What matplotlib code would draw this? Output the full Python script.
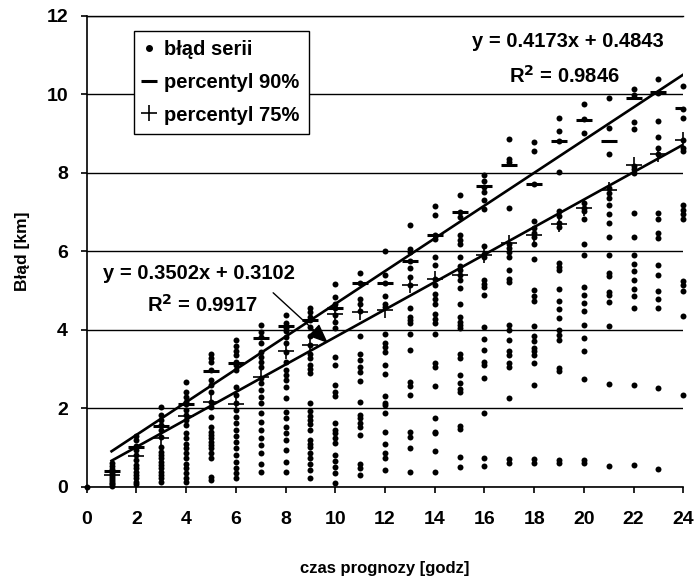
import numpy as np
import matplotlib
matplotlib.use("Agg")
import matplotlib.pyplot as plt
from matplotlib.lines import Line2D

plt.rcParams['font.family'] = ['Liberation Sans', 'DejaVu Sans']
plt.rcParams['font.weight'] = 'bold'

# ---- data: error of each series per forecast hour ----
e_00 = [0.0]
e_01 = [0.60, 0.52, 0.45, 0.40, 0.35, 0.30, 0.25, 0.20, 0.15, 0.10, 0.06, 0.02]
e_02 = [1.29, 1.19, 1.03, 0.93, 0.81, 0.68, 0.55, 0.47, 0.38, 0.30, 0.21, 0.13, 0.06]
e_03 = [2.04, 1.82, 1.70, 1.57, 1.44, 1.27, 1.02, 0.89, 0.81, 0.72, 0.64, 0.55, 0.47, 0.38, 0.30, 0.21, 0.13]
e_04 = [2.67, 2.42, 2.29, 2.16, 2.10, 1.95, 1.82, 1.70, 1.57, 1.36, 1.23, 1.10, 0.98, 0.85, 0.72, 0.59, 0.47, 0.34, 0.21, 0.13]
e_05 = [3.39, 3.29, 3.18, 2.97, 2.71, 2.59, 2.42, 2.16, 2.04, 1.78, 1.53, 1.40, 1.31, 1.23, 1.15, 1.06, 0.98, 0.85, 0.72, 0.25, 0.17]
e_06 = [3.73, 3.58, 3.46, 3.35, 3.18, 3.10, 2.97, 2.54, 2.33, 2.12, 1.95, 1.78, 1.61, 1.44, 1.29, 1.15, 0.98, 0.81, 0.64, 0.47, 0.34, 0.21]
e_07 = [4.11, 3.94, 3.82, 3.65, 3.44, 3.31, 3.18, 3.05, 2.78, 2.63, 2.46, 2.29, 2.12, 1.87, 1.65, 1.44, 1.25, 1.06, 0.85, 0.59, 0.38]
e_08 = [4.37, 4.17, 4.03, 3.97, 3.82, 3.65, 3.44, 3.18, 2.97, 2.84, 2.71, 2.54, 2.25, 1.91, 1.74, 1.53, 1.37, 1.19, 0.93, 0.64, 0.38]
e_09 = [4.54, 4.45, 4.33, 4.24, 4.07, 3.83, 3.60, 3.39, 3.27, 3.10, 3.01, 2.90, 2.12, 1.93, 1.80, 1.70, 1.59, 1.44, 1.19, 1.10, 1.00, 0.85, 0.72, 0.59, 0.42, 0.21]
e_10 = [5.17, 4.83, 4.66, 4.54, 4.37, 4.20, 4.05, 3.31, 3.10, 2.59, 2.42, 2.31, 1.63, 1.44, 1.36, 1.23, 1.12, 0.81, 0.66, 0.51, 0.34, 0.10]
e_11 = [5.45, 5.19, 4.77, 4.66, 4.47, 3.83, 3.37, 3.24, 3.05, 2.93, 2.70, 2.16, 1.82, 1.74, 1.61, 1.51, 1.31, 0.59, 0.47, 0.30]
e_12 = [6.00, 5.39, 5.19, 4.85, 4.66, 4.58, 3.88, 3.65, 3.55, 3.44, 3.11, 2.88, 2.31, 2.12, 2.08, 1.87, 1.40, 1.10, 0.85, 0.72, 0.42]
e_13 = [6.66, 6.06, 5.98, 5.74, 5.56, 5.34, 5.13, 4.54, 4.33, 4.24, 4.17, 3.90, 3.49, 2.67, 2.56, 2.33, 1.40, 1.26, 0.98, 0.38]
e_14 = [7.14, 6.91, 6.40, 6.32, 5.85, 5.64, 5.28, 5.13, 4.92, 4.79, 4.66, 4.41, 4.28, 4.16, 3.88, 3.16, 3.05, 2.56, 1.76, 1.40, 1.36, 0.91, 0.38]
e_15 = [7.42, 7.00, 6.87, 6.40, 6.29, 6.19, 5.85, 5.61, 5.51, 5.40, 5.26, 5.05, 4.66, 4.33, 4.20, 4.11, 4.03, 3.39, 3.27, 2.84, 2.63, 2.50, 2.42, 1.54, 1.46, 0.76, 0.49]
e_16 = [7.93, 7.80, 7.63, 7.51, 7.31, 7.08, 6.12, 5.94, 5.85, 5.26, 5.17, 5.09, 4.88, 4.07, 3.77, 3.48, 3.18, 3.10, 2.76, 1.87, 0.72, 0.53]
e_17 = [8.85, 8.34, 8.26, 7.09, 6.19, 6.09, 5.98, 5.85, 5.53, 5.28, 5.22, 4.13, 4.00, 3.74, 3.45, 3.36, 3.15, 3.06, 2.27, 0.70, 0.60]
e_18 = [8.78, 8.55, 7.70, 6.77, 6.60, 6.47, 6.36, 6.19, 5.80, 5.02, 4.85, 4.72, 4.09, 3.83, 3.70, 3.53, 3.45, 3.36, 3.15, 2.60, 0.70, 0.60]
e_19 = [9.40, 9.06, 8.81, 8.02, 7.02, 6.89, 6.72, 6.61, 5.70, 5.59, 5.53, 5.04, 4.72, 4.53, 4.30, 4.00, 3.87, 3.74, 3.02, 2.94, 0.68, 0.60]
e_20 = [9.76, 9.36, 9.02, 7.23, 7.11, 7.02, 6.83, 6.17, 5.91, 5.08, 4.89, 4.68, 4.47, 4.13, 3.79, 3.45, 2.75, 0.68, 0.60]
e_21 = [9.91, 9.15, 8.47, 7.62, 7.49, 7.36, 7.17, 6.95, 6.72, 6.36, 5.91, 5.45, 5.36, 4.95, 4.89, 4.71, 4.09, 2.61, 0.53]
e_22 = [10.13, 9.97, 9.28, 9.11, 8.17, 8.09, 8.00, 6.98, 6.37, 5.90, 5.68, 5.49, 5.26, 5.04, 4.85, 4.55, 2.58, 0.54]
e_23 = [10.38, 10.04, 9.32, 8.91, 8.64, 8.47, 6.98, 6.81, 6.47, 6.34, 5.66, 5.39, 4.98, 4.77, 4.55, 2.51, 0.45]
e_24 = [10.21, 9.62, 9.40, 8.83, 8.64, 8.55, 7.17, 7.06, 6.95, 6.83, 5.25, 5.13, 4.98, 4.34, 2.34]

errors = [e_00, e_01, e_02, e_03, e_04, e_05, e_06, e_07, e_08, e_09, e_10, e_11, e_12,
          e_13, e_14, e_15, e_16, e_17, e_18, e_19, e_20, e_21, e_22, e_23, e_24]

hours_p = list(range(1, 25))
p90 = [0.40, 1.00, 1.55, 2.10, 2.95, 3.15, 3.80, 4.10, 4.25, 4.55, 5.20, 5.20,
       5.75, 6.40, 7.00, 7.65, 8.20, 7.70, 8.80, 9.35, 8.80, 9.90, 10.05, 9.65]
p75 = [0.30, 0.78, 1.25, 1.80, 2.15, 2.10, 2.80, 3.45, 3.60, 4.40, 4.45, 4.50,
       5.15, 5.28, 5.40, 5.90, 6.20, 6.40, 6.70, 7.10, 7.55, 8.20, 8.47, 8.83]

fit90 = (0.4173, 0.4843, 0.9846)
fit75 = (0.3502, 0.3102, 0.9917)

labels = ['błąd serii', 'percentyl 90%', 'percentyl 75%']
x_ticks = list(range(0, 25, 2))
y_ticks = list(range(0, 13, 2))

# ---- figure ----
fig = plt.figure(figsize=(6.98, 5.80), dpi=100)
ax = fig.add_axes([0.1242, 0.1609, 0.8548, 0.8121])

xs = np.concatenate([np.full(len(v), h) for h, v in enumerate(errors)])
ys = np.concatenate([np.asarray(v, float) for v in errors])
ax.plot(xs, ys, 'o', color='black', ms=4.3, mew=0, zorder=3, clip_on=False)
ax.plot(hours_p, p90, '_', color='black', ms=12, mew=2.2, zorder=4)
ax.plot(hours_p, p75, '+', color='black', ms=12, mew=1.2, zorder=4)

xl = np.array([1, 24])
ax.plot(xl, fit90[0] * xl + fit90[1], color='black', lw=1.9, zorder=5)
ax.plot(xl, fit75[0] * xl + fit75[1], color='black', lw=1.9, zorder=5)

ax.set_xlim(0, 24)
ax.set_ylim(0, 12)
ax.set_xticks(x_ticks)
ax.set_yticks(y_ticks)
ax.yaxis.grid(True, color='black', lw=1.0)
ax.set_axisbelow(True)
ax.spines['right'].set_visible(False)
ax.spines['top'].set_linewidth(1.0)
ax.spines['left'].set_linewidth(1.2)
ax.spines['bottom'].set_linewidth(1.2)
ax.tick_params(direction='out', length=4.5, width=1.2, labelsize=14)
ax.tick_params(axis='x', pad=13)
ax.tick_params(axis='y', pad=9)
for t in ax.get_xticklabels() + ax.get_yticklabels():
    t.set_fontweight('bold')

ax.set_xlabel('czas prognozy [godz]', fontsize=12, fontweight='bold', labelpad=24)
ax.set_ylabel('Błąd [km]', fontsize=12.5, fontweight='bold', labelpad=12)

ax.text(23.2, 11.34, 'y = %.4fx + %.4f' % (fit90[0], fit90[1]), ha='right', va='center',
        fontsize=14.5, fontweight='bold')
ax.text(21.45, 10.47, 'R$^2$ = %.4f' % fit90[2], ha='right', va='center',
        fontsize=14.5, fontweight='bold')
ax.text(0.66, 5.43, 'y = %.4fx + %.4f' % (fit75[0], fit75[1]), ha='left', va='center',
        fontsize=14.5, fontweight='bold')
ax.text(2.43, 4.62, 'R$^2$ = %.4f' % fit75[2], ha='left', va='center',
        fontsize=14.5, fontweight='bold')
ax.annotate('', xy=(9.7, 3.66), xytext=(7.5, 4.94),
            arrowprops=dict(arrowstyle='-|>,head_length=0.6,head_width=0.25',
                            color='black', lw=1.0, mutation_scale=20,
                            shrinkA=0, shrinkB=0))

handles = [Line2D([], [], ls='', marker='o', color='black', ms=4.0),
           Line2D([], [], ls='', marker='_', color='black', ms=11, mew=2.2),
           Line2D([], [], ls='', marker='+', color='black', ms=11, mew=1.2)]
leg = ax.legend(handles, labels, loc='upper left', bbox_to_anchor=(0.0794, 0.9673),
                frameon=True, fancybox=False, edgecolor='black', framealpha=1,
                prop={'weight': 'bold', 'size': 14.5}, handlelength=0.6,
                handletextpad=0.45, borderpad=0.45, labelspacing=0.68,
                borderaxespad=0)
leg.get_frame().set_linewidth(1.0)

fig.savefig('out.png', dpi=100)
